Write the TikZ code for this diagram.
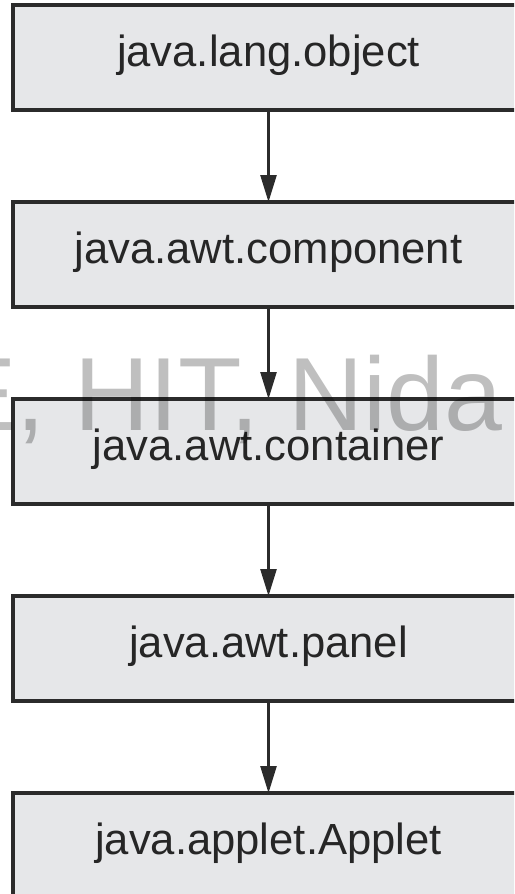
\documentclass[tikz,border=0pt]{standalone}
\usepackage{fontspec}
\setmainfont{Liberation Sans}
\usetikzlibrary{arrows.meta}
\definecolor{kasten}{HTML}{E6E7E9}
\definecolor{rand}{HTML}{2B2B2B}
\definecolor{schrift}{HTML}{262626}

\begin{document}
\begin{tikzpicture}[x=1pt,y=1pt,line join=miter]
	\tikzstyle{klasse}=[rectangle,draw=rand,line width=3.5pt,fill=kasten,minimum width=511pt,minimum height=105pt,inner sep=0pt,outer sep=0pt,font=\fontsize{43.6}{50}\selectfont,text=schrift,text height=22pt,text depth=4pt];
	\tikzstyle{pfeil}=[line width=2.5pt,draw=rand,-{Triangle[length=27pt,width=16pt]}];
	\tikzstyle{stempel}=[anchor=base west,inner sep=0pt,font=\fontsize{104}{104}\selectfont,text=black,opacity=.25];

	\useasboundingbox (0,0) rectangle (514,-894);
	\clip (0,0) rectangle (514,-894);

	\node[klasse] (object)    at (268.5,-57.5)  {java.lang.object};
	\node[klasse] (component) at (268.5,-254.5) {java.awt.component};
	\node[klasse] (container) at (268.5,-451.5) {java.awt.container};
	\node[klasse] (panel)     at (268.5,-648.5) {java.awt.panel};
	\node[klasse] (applet)    at (268.5,-845.5) {java.applet.Applet};

	\draw[pfeil] (object)    -- (component);
	\draw[pfeil] (component) -- (container);
	\draw[pfeil] (container) -- (panel);
	\draw[pfeil] (panel)     -- (applet);

	\node[stempel] (marke) at (-53,-430) {E, HIT, Nida};
\end{tikzpicture}
\end{document}
